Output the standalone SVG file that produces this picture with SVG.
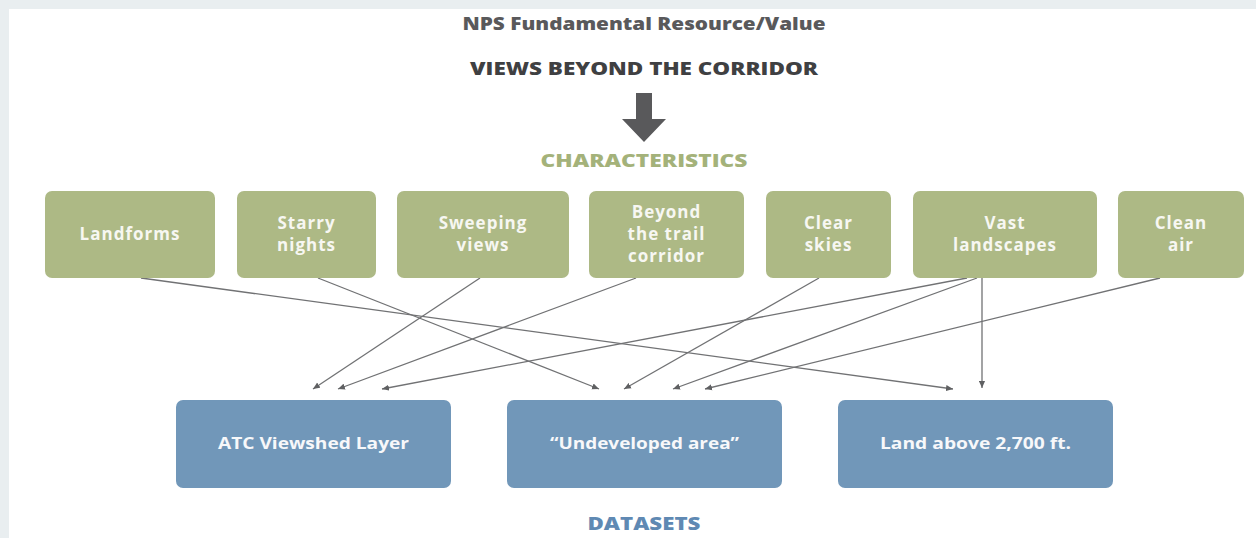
<svg xmlns="http://www.w3.org/2000/svg" width="1256" height="538" viewBox="0 0 1256 538">
<defs>
<style>
.hdr{font-family:"Open Sans","Liberation Sans",sans-serif;font-weight:800;text-anchor:middle}
.g rect{fill:#adb985}
.b rect{fill:#7197b9}
.lbl{font-family:"Open Sans","Liberation Sans",sans-serif;font-weight:700;font-size:17px;fill:#f7f7f2;text-anchor:middle;letter-spacing:1px}
.blbl{font-family:"Open Sans","Liberation Sans",sans-serif;font-weight:700;font-size:16.5px;fill:#f7f8fa;text-anchor:middle}
#connectors line{stroke:#717274;stroke-width:1.3;fill:none;marker-end:url(#ah)}
</style>
<marker id="ah" viewBox="0 0 8 8" refX="8" refY="4" markerWidth="7" markerHeight="7" markerUnits="userSpaceOnUse" orient="auto">
<path d="M0,0.5 L8,4 L0,7.5 Z" fill="#5f6062"/>
</marker>
</defs>
<rect width="1256" height="538" fill="#e9eef0"/>
<rect x="9" y="9" width="1247" height="529" fill="#ffffff"/>

<g id="header">
<text class="hdr" x="644" y="30" font-size="17" font-weight="600" fill="#59595b" textLength="363" lengthAdjust="spacingAndGlyphs">NPS Fundamental Resource/Value</text>
<text class="hdr" x="644" y="75" font-size="17.5" fill="#3f4042" textLength="348" lengthAdjust="spacingAndGlyphs">VIEWS BEYOND THE CORRIDOR</text>
<path d="M636,93 H652 V119 H666 L644,142 L622,119 H636 Z" fill="#59595b"/>
<text class="hdr" x="644" y="167" font-size="17" fill="#a4b27a" textLength="207" lengthAdjust="spacingAndGlyphs">CHARACTERISTICS</text>
<text class="hdr" x="644" y="530" font-size="17" fill="#5f89b3" textLength="113" lengthAdjust="spacingAndGlyphs">DATASETS</text>
</g>

<g id="connectors">
<line x1="141" y1="278" x2="953" y2="389"/>
<line x1="318" y1="278" x2="599" y2="389"/>
<line x1="480" y1="278" x2="313" y2="389"/>
<line x1="636" y1="278" x2="338" y2="389"/>
<line x1="819" y1="278" x2="624" y2="389"/>
<line x1="967" y1="278" x2="382" y2="389"/>
<line x1="977" y1="278" x2="673" y2="389"/>
<line x1="982" y1="278" x2="982" y2="388"/>
<line x1="1160" y1="278" x2="705" y2="389"/>
</g>

<g id="landforms" class="g"><rect x="45" y="191" width="170" height="87" rx="7"/><text class="lbl" x="130" y="240">Landforms</text></g>
<g id="starry-nights" class="g"><rect x="237" y="191" width="139" height="87" rx="7"/><text class="lbl" x="306.5" y="229">Starry</text><text class="lbl" x="306.5" y="251">nights</text></g>
<g id="sweeping-views" class="g"><rect x="397" y="191" width="172" height="87" rx="7"/><text class="lbl" x="483" y="229">Sweeping</text><text class="lbl" x="483" y="251">views</text></g>
<g id="beyond-trail" class="g"><rect x="589" y="191" width="155" height="87" rx="7"/><text class="lbl" x="666.5" y="218">Beyond</text><text class="lbl" x="666.5" y="240">the trail</text><text class="lbl" x="666.5" y="262">corridor</text></g>
<g id="clear-skies" class="g"><rect x="766" y="191" width="125" height="87" rx="7"/><text class="lbl" x="828.5" y="229">Clear</text><text class="lbl" x="828.5" y="251">skies</text></g>
<g id="vast-landscapes" class="g"><rect x="913" y="191" width="184" height="87" rx="7"/><text class="lbl" x="1005" y="229">Vast</text><text class="lbl" x="1005" y="251">landscapes</text></g>
<g id="clean-air" class="g"><rect x="1118" y="191" width="126" height="87" rx="7"/><text class="lbl" x="1181" y="229">Clean</text><text class="lbl" x="1181" y="251">air</text></g>

<g id="atc-viewshed" class="b"><rect x="176" y="400" width="275" height="88" rx="7"/><text class="blbl" x="313.5" y="449" textLength="191" lengthAdjust="spacingAndGlyphs">ATC Viewshed Layer</text></g>
<g id="undeveloped" class="b"><rect x="507" y="400" width="275" height="88" rx="7"/><text class="blbl" x="644.5" y="449" textLength="189" lengthAdjust="spacingAndGlyphs">“Undeveloped area”</text></g>
<g id="land-above" class="b"><rect x="838" y="400" width="275" height="88" rx="7"/><text class="blbl" x="975.5" y="449" textLength="191" lengthAdjust="spacingAndGlyphs">Land above 2,700 ft.</text></g>
</svg>
